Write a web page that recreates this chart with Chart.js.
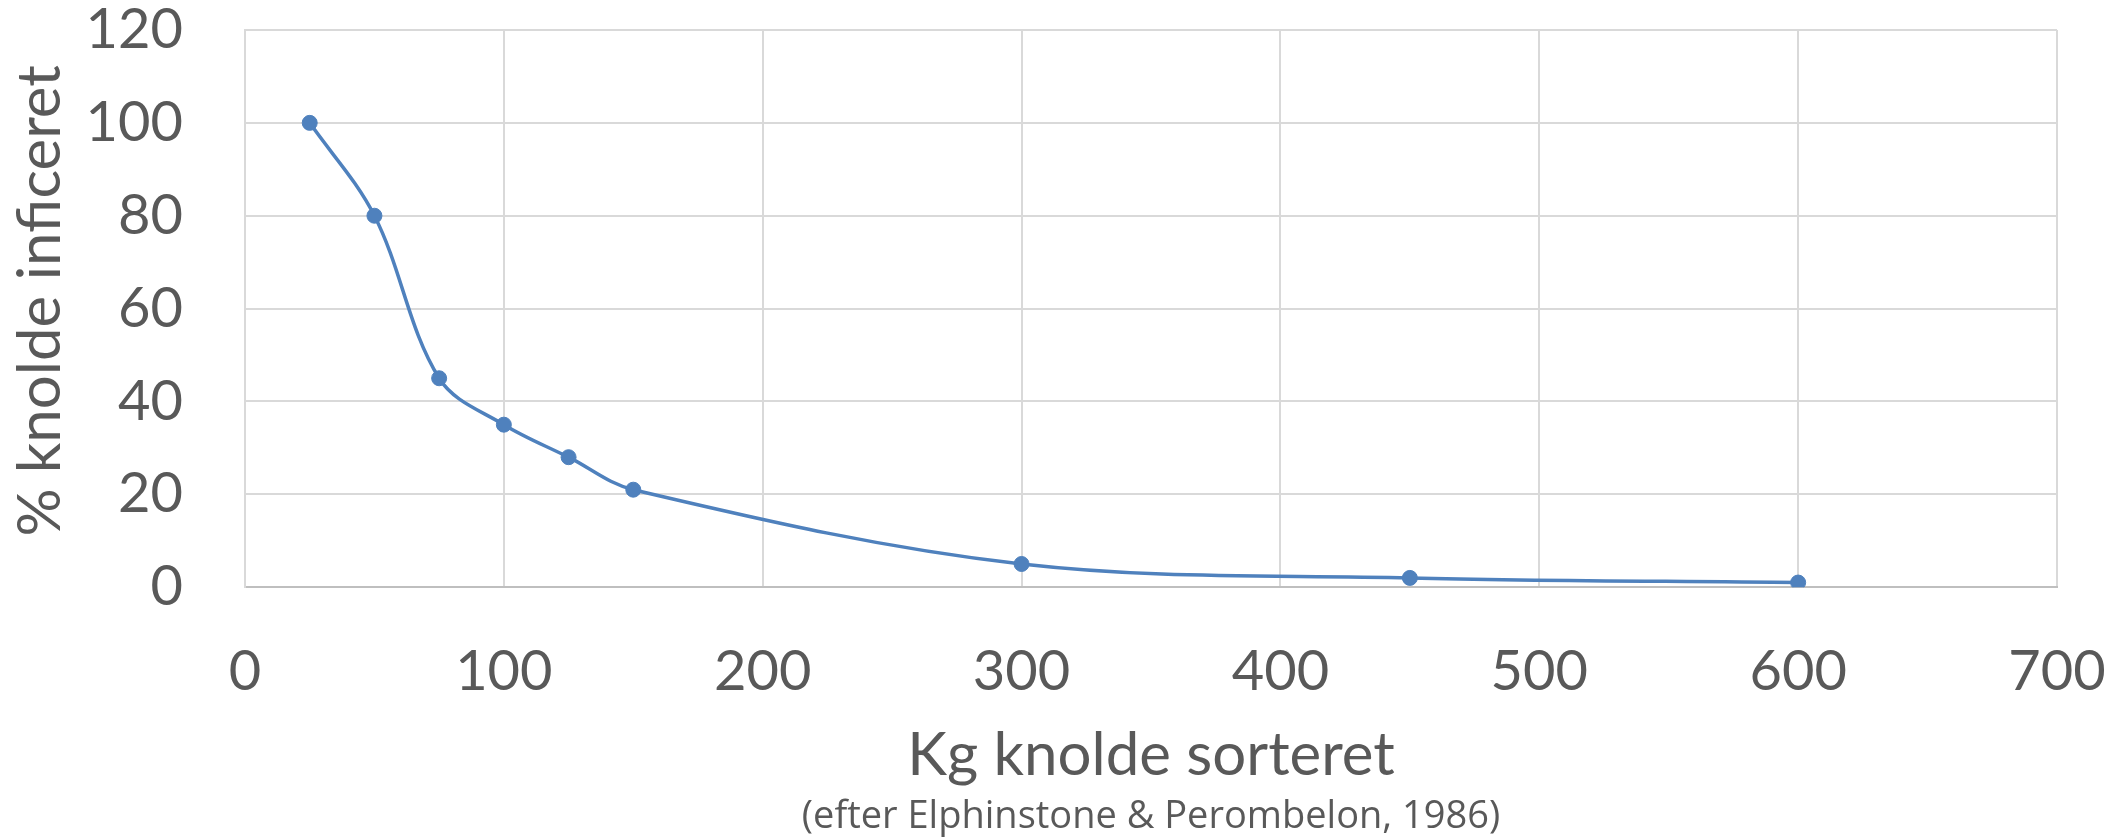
<!DOCTYPE html>
<html>
<head>
<meta charset="utf-8">
<script src="https://cdn.jsdelivr.net/npm/chart.js@4"></script>
<style>
    body{margin:0;background:#fff;}
</style>
</head>
<body>
<canvas id="knoldeChart" width="2128" height="840"></canvas>
<script>
// data
const kgSorteret=[25,50,75,100,125,150,300,450,600];
const pctInficeret=[100,80,45,35,28,21,5,2,1];
const xTicks=[0,100,200,300,400,500,600,700];
const yTicks=[0,20,40,60,80,100,120];

const grey='#595959';
const blue='#4f81bd';

window.addEventListener('load',()=>{
    let points=kgSorteret.map((x,i)=>({x:x,y:pctInficeret[i]}));

    const ctx=document.getElementById('knoldeChart').getContext('2d');
    const myChart=new Chart(ctx,{
        type:'scatter',
        data:{
            datasets:[{
                data:points,
                showLine:true,
                borderColor:blue,
                backgroundColor:blue,
                borderWidth:3.5,
                tension:0.35,
                pointRadius:7.5,
                pointBorderWidth:1,
                pointHoverRadius:7.5
            }]
        },
        options:{
            responsive:false,
            animation:false,
            events:[],
            layout:{padding:{top:30,right:71,bottom:0,left:0}},
            plugins:{
                legend:{display:false},
                tooltip:{enabled:false},
                subtitle:{
                    display:true,
                    fullSize:false,
                    position:'bottom',
                    text:'(efter Elphinstone & Perombelon, 1986)',
                    color:grey,
                    font:{family:'Open Sans',size:38,weight:'normal'},
                    padding:{top:3.2,bottom:0}
                }
            },
            scales:{
                x:{
                    type:'linear',
                    min:xTicks[0],
                    max:xTicks[xTicks.length-1],
                    afterBuildTicks:(axis)=>{axis.ticks=xTicks.map(v=>({value:v}));},
                    afterFit:(axis)=>{
                        axis.height=204;
                        // tick padding should not push the plot edges in
                        axis.paddingLeft=0;
                        axis.paddingRight=0;
                    },
                    grid:{color:'#d9d9d9',lineWidth:2,drawTicks:false},
                    border:{display:true,color:'#bfbfbf',width:2},
                    ticks:{color:grey,padding:51,font:{family:'Lato',size:56}},
                    title:{
                        display:true,
                        text:'Kg knolde sorteret',
                        color:grey,
                        font:{family:'Lato',size:60},
                        padding:{top:0,bottom:0}
                    }
                },
                y:{
                    type:'linear',
                    min:yTicks[0],
                    max:yTicks[yTicks.length-1],
                    afterBuildTicks:(axis)=>{axis.ticks=yTicks.map(v=>({value:v}));},
                    afterFit:(axis)=>{
                        axis.width=245;
                        axis.paddingTop=0;
                        axis.paddingBottom=0;
                    },
                    grid:{color:'#d9d9d9',lineWidth:2,drawTicks:false},
                    border:{display:true,color:'#d9d9d9',width:2},
                    ticks:{color:grey,padding:62,font:{family:'Lato',size:56}},
                    title:{
                        display:true,
                        text:' % knolde inficeret',
                        color:grey,
                        font:{family:'Lato',size:60},
                        padding:{top:5,bottom:0}
                    }
                }
            }
        }
    });
})
</script>
</body>
</html>
